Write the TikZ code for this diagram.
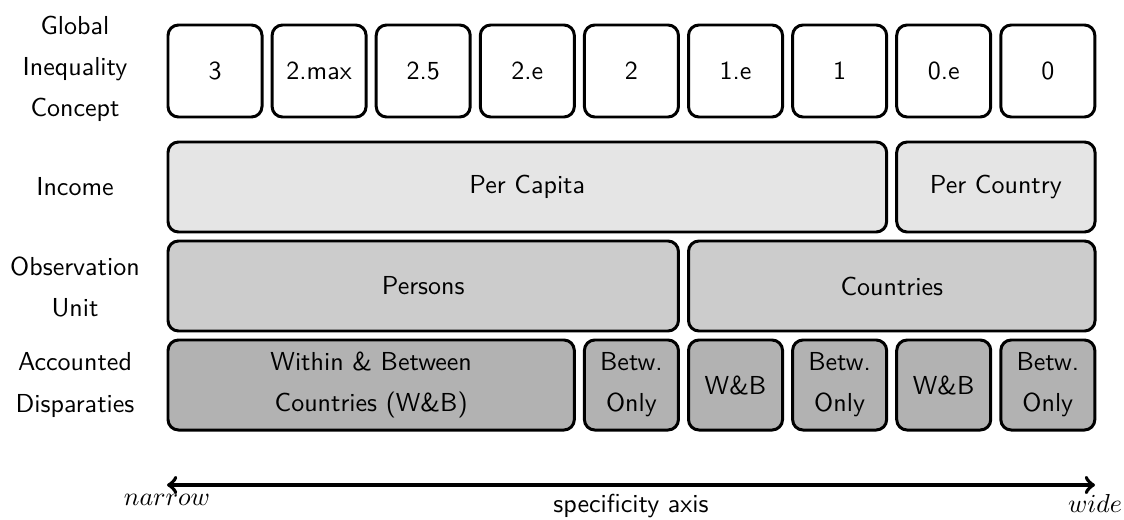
\documentclass[tikz,border=0pt]{standalone}
\usetikzlibrary{calc}
\newlength\pxl
\setlength\pxl{0.3846pt}
\begin{document}
\begin{tikzpicture}[x=\pxl,y=-\pxl,
  every node/.style={font=\sffamily\fontsize{10pt}{15.8pt}\selectfont},
  gbox/.style={draw,line width=1.15pt,rounded corners=4pt,inner sep=0pt,outer sep=0pt,align=center,minimum height=90\pxl},
  topbox/.style={gbox,fill=white,minimum width=94\pxl,minimum height=92\pxl},
  incbox/.style={gbox,fill=black!10},
  obsbox/.style={gbox,fill=black!20},
  accbox/.style={gbox,fill=black!30},
  rowlabel/.style={align=center},
  axis/.style={line width=1.5pt,<->}
]
\useasboundingbox (0,0) rectangle (1124,519);
% row labels
\node[rowlabel] (lg) at (75,69) {Global\\Inequality\\Concept};
\node[rowlabel] (li) at (75,187) {Income};
\node[rowlabel] (lo) at (75,287) {Observation\\Unit};
\node[rowlabel] (la) at (75,385) {Accounted\\Disparaties};
% top row
\node[topbox] (c3)   at (215,71)    {3};
\node[topbox] (c2m)  at (319.1,71)  {2.max};
\node[topbox] (c25)  at (423.2,71)  {2.5};
\node[topbox] (c2e)  at (527.3,71)  {2.e};
\node[topbox] (c2)   at (631.4,71)  {2};
\node[topbox] (c1e)  at (735.5,71)  {1.e};
\node[topbox] (c1)   at (839.6,71)  {1};
\node[topbox] (c0e)  at (943.7,71)  {0.e};
\node[topbox] (c0)   at (1047.8,71) {0};
% income
\node[incbox,minimum width=718.6\pxl] (pcap) at (527.3,187) {Per Capita};
\node[incbox,minimum width=198.3\pxl] (pcou) at (995.85,187) {Per Country};
% observation unit
\node[obsbox,minimum width=510.4\pxl] (pers) at (423.2,286) {Persons};
\node[obsbox,minimum width=406.5\pxl] (coun) at (891.75,286) {Countries};
% accounted disparities
\node[accbox,minimum width=406.3\pxl] (wb1) at (371.15,385) {Within \& Between\\Countries (W\&B)};
\node[accbox,minimum width=94\pxl] (bo1) at (631.4,385) {Betw.\\Only};
\node[accbox,minimum width=94\pxl] (wb2) at (735.5,385) {W\&B};
\node[accbox,minimum width=94\pxl] (bo2) at (839.6,385) {Betw.\\Only};
\node[accbox,minimum width=94\pxl] (wb3) at (943.7,385) {W\&B};
\node[accbox,minimum width=94\pxl] (bo3) at (1047.8,385) {Betw.\\Only};
% axis
\coordinate (an) at (167,485);
\coordinate (aw) at (1095,485);
\draw[axis] (an) -- (aw);
\node[below] (nn) at (an) {$narrow$};
\node[below] (nw) at (aw) {$wide$};
\node[below] (ns) at ($ (an)!0.5!(aw) $) {specificity axis};
\end{tikzpicture}
\end{document}
